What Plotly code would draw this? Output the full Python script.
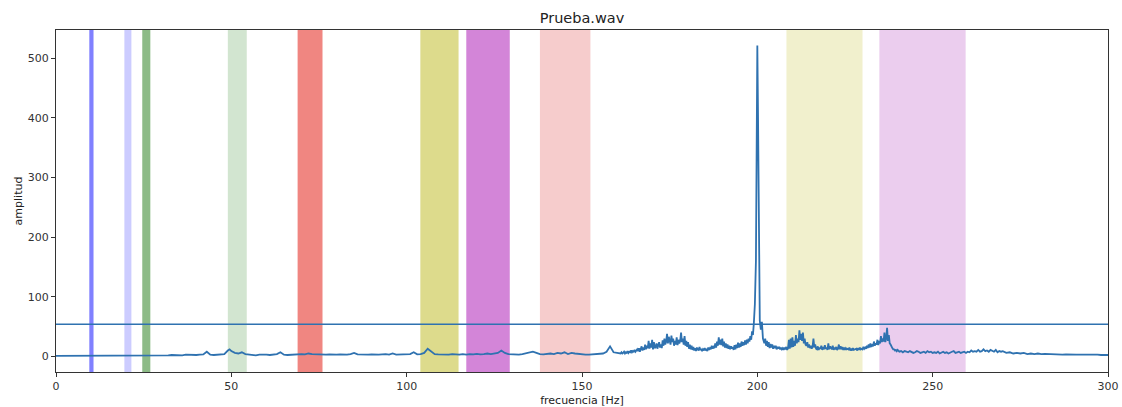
import plotly.graph_objects as go

# ---- data ----
title_text = "Prueba.wav"
x_label = "frecuencia [Hz]"
y_label = "amplitud"

band_start = [9.5, 19.5, 24.6, 49.0, 68.9, 103.9, 117.0, 138.0, 208.3, 234.8]
band_end = [10.7, 21.5, 26.9, 54.4, 76.0, 114.8, 129.4, 152.4, 230.0, 259.4]
band_colors = ["#8080ff", "#ccccff", "#8dbb87", "#d2e5d0", "#f08681",
               "#dddb8c", "#d385d8", "#f6cccc", "#f1f0cd", "#ebcdee"]

threshold = 54

freq = [0, 5, 10, 15, 20, 25, 30,
        31, 32, 33, 34, 35, 36, 37, 38, 39, 40, 41, 42, 43, 44, 45, 46, 47, 48, 49, 49.5, 50,
        51, 52, 53, 54, 55, 56, 57, 58, 59, 60, 61, 62, 63, 64, 65, 66, 67, 68, 69, 70,
        71, 72, 73, 74, 75, 76, 77, 78, 79, 80, 81, 82, 83, 84, 85, 86, 87, 88, 89, 90,
        91, 92, 93, 94, 95, 96, 97, 98, 99, 100, 101, 102, 103, 104, 105, 106, 107, 108, 109, 110,
        111, 112, 113, 114, 115, 116, 117, 118, 119, 120, 121, 122, 123, 124, 125, 126, 127, 128, 129, 130,
        131, 132, 133, 134, 135, 136, 137, 138, 139, 140, 141, 142, 143, 144, 145, 146, 147, 148, 149, 150,
        151, 152, 153, 154, 155, 156, 157, 158, 159, 160,
        161, 161.25, 161.5, 161.75, 162, 162.25, 162.5, 162.75, 163, 163.25, 163.5, 163.75,
        164, 164.25, 164.5, 164.75, 165, 165.25, 165.5, 165.75, 166, 166.25, 166.5, 166.75,
        167, 167.25, 167.5, 167.75, 168, 168.25, 168.5, 168.75, 169, 169.25, 169.5, 169.75,
        170, 170.25, 170.5, 170.75, 171, 171.25, 171.5, 171.75, 172, 172.25, 172.5, 172.75,
        173, 173.25, 173.5, 173.75, 174, 174.25, 174.5, 174.75, 175, 175.25, 175.5, 175.75,
        176, 176.25, 176.5, 176.75, 177, 177.25, 177.5, 177.75, 178, 178.25, 178.5, 178.75,
        179, 179.25, 179.5, 179.75, 180, 180.25, 180.5, 180.75, 181, 181.25, 181.5, 181.75,
        182, 182.25, 182.5, 182.75, 183, 183.25, 183.5, 183.75, 184, 184.25, 184.5, 184.75,
        185, 185.25, 185.5, 185.75, 186, 186.25, 186.5, 186.75, 187, 187.25, 187.5, 187.75,
        188, 188.25, 188.5, 188.75, 189, 189.25, 189.5, 189.75, 190, 190.25, 190.5, 190.75,
        191, 191.25, 191.5, 191.75, 192, 192.25, 192.5, 192.75, 193, 193.25, 193.5, 193.75,
        194, 194.25, 194.5, 194.75, 195, 195.25, 195.5, 195.75, 196, 196.25, 196.5, 196.75,
        197, 197.25, 197.5, 197.75, 198, 198.25, 198.5, 198.75,
        199, 199.3, 199.6, 199.8, 200, 200.2, 200.4, 200.7, 201, 201.3, 201.6,
        202, 202.25, 202.5, 202.75, 203, 203.25, 203.5, 203.75, 204, 204.25, 204.5, 204.75,
        205, 205.25, 205.5, 205.75, 206, 206.25, 206.5, 206.75, 207, 207.25, 207.5, 207.75,
        208, 208.25, 208.5, 208.75, 209, 209.25, 209.5, 209.75, 210, 210.25, 210.5, 210.75,
        211, 211.25, 211.5, 211.75, 212, 212.25, 212.5, 212.75, 213, 213.25, 213.5, 213.75,
        214, 214.25, 214.5, 214.75, 215, 215.25, 215.5, 215.75, 216, 216.25, 216.5, 216.75,
        217, 217.25, 217.5, 217.75, 218, 218.25, 218.5, 218.75, 219, 219.25, 219.5, 219.75,
        220, 220.25, 220.5, 220.75, 221, 221.25, 221.5, 221.75, 222, 222.25, 222.5, 222.75,
        223, 223.25, 223.5, 223.75, 224, 224.25, 224.5, 224.75, 225, 225.25, 225.5, 225.75,
        226, 226.25, 226.5, 226.75, 227, 227.25, 227.5, 227.75, 228, 228.25, 228.5, 228.75,
        229, 229.25, 229.5, 229.75, 230, 230.25, 230.5, 230.75, 231, 231.25, 231.5, 231.75,
        232, 232.25, 232.5, 232.75, 233, 233.25, 233.5, 233.75, 234, 234.25, 234.5, 234.75,
        235, 235.25, 235.5, 235.75, 236, 236.25, 236.5, 236.75, 237, 237.25, 237.5, 237.75,
        238, 238.25, 238.5, 238.75, 239, 239.25, 239.5, 239.75, 240,
        240.5, 241, 241.5, 242, 242.5, 243, 243.5, 244, 244.5, 245, 245.5, 246, 246.5, 247, 247.5,
        248, 248.5, 249, 249.5, 250, 250.5, 251, 251.5, 252, 252.5, 253, 253.5, 254, 254.5, 255,
        255.5, 256, 256.5, 257, 257.5, 258, 258.5, 259, 259.5, 260, 260.5, 261, 261.5, 262, 262.5,
        263, 263.5, 264, 264.5, 265, 265.5, 266, 266.5, 267, 267.5, 268, 268.5, 269, 269.5, 270,
        271, 272, 273, 274, 275, 276, 277, 278, 279, 280,
        281, 282, 283, 284, 285, 286, 287, 288, 289, 290, 291, 292, 293, 294, 295, 296, 297, 298, 299, 300]

amplitude = [1, 1, 1, 1, 1, 1, 1.5,
             2, 2, 2.5, 2, 2.5, 2, 3, 2.5, 3, 2.5, 3, 3.5, 8, 3, 2.5, 3, 3, 4, 10, 12, 9,
             6, 5, 7, 4, 3, 2.5, 2, 3, 3.5, 3, 2.5, 3, 4, 7, 3, 2.5, 3, 3, 3, 4,
             3.5, 5, 4, 3.5, 4, 3, 3, 3.5, 3, 3, 3.5, 3, 3, 4, 6, 3.5, 3, 2.5, 3, 3.5,
             3, 3, 3.5, 4, 3, 5, 3, 3, 3.5, 3, 4, 7, 3.5, 4, 6, 13, 8, 4, 3.5, 3,
             3.5, 3, 4, 3.5, 3, 4, 3, 4, 3.5, 4.5, 3.5, 4, 5, 4, 5, 6, 10, 6, 4, 3.5,
             4, 3, 4, 5, 7, 8, 6, 4, 3.5, 4, 5, 4, 6, 5, 7, 4, 6, 5, 4, 3.5,
             3, 3, 3.5, 4, 4, 5, 8, 17, 7, 6,
             5, 7, 5, 6, 8, 5, 7, 6, 9, 6, 8, 7,
             10, 7, 9, 8, 11, 8, 10, 12, 9, 14, 8, 12,
             17, 10, 15, 11, 20, 12, 18, 14, 26, 13, 22, 15,
             28, 12, 24, 14, 16, 22, 13, 19, 24, 15, 20, 14,
             27, 18, 30, 20, 25, 38, 22, 33, 28, 20, 35, 24,
             30, 18, 26, 20, 32, 19, 28, 22, 26, 40, 24, 30,
             20, 34, 18, 26, 16, 24, 13, 20, 12, 18, 11, 16,
             10, 14, 9, 15, 12, 10, 16, 11, 13, 9, 12, 10,
             14, 10, 13, 9, 15, 11, 14, 12, 18, 13, 16, 14,
             22, 15, 25, 18, 32, 20, 28, 19, 30, 17, 25, 15,
             22, 14, 20, 13, 18, 12, 17, 13, 16, 11, 19, 12,
             20, 14, 23, 15, 22, 16, 25, 18, 24, 19, 27, 20,
             28, 22, 30, 25, 34, 28, 42, 36,
             55, 88, 160, 380, 521, 400, 180, 60, 45, 58, 30,
             22, 30, 18, 26, 16, 24, 14, 21, 15, 20, 13, 18,
             14, 18, 12, 16, 13, 16, 12, 15, 12, 14, 11, 15,
             12, 16, 11, 14, 28, 13, 30, 15, 32, 16, 26, 18,
             36, 22, 30, 24, 44, 28, 38, 26, 40, 22, 30, 20,
             18, 24, 15, 20, 14, 18, 13, 16, 30, 15, 20, 13,
             12, 17, 11, 15, 13, 18, 11, 16, 12, 19, 13, 15,
             11, 22, 12, 17, 14, 12, 18, 11, 15, 12, 16, 11,
             13, 20, 12, 17, 12, 16, 11, 15, 11, 14, 12, 13,
             12, 15, 10, 13, 10, 14, 11, 12, 12, 13, 10, 14,
             11, 15, 12, 13, 12, 16, 13, 15, 13, 18, 14, 20,
             15, 22, 16, 19, 17, 25, 18, 22, 20, 28, 19, 26,
             22, 34, 24, 30, 25, 40, 24, 30, 48, 26, 36, 22,
             20, 16, 14, 12, 12, 10, 11, 9, 11,
             8, 9, 7, 9, 8, 7, 9, 8, 6, 7, 9, 8, 6, 7, 8,
             6, 9, 7, 8, 6, 7, 6, 8, 5, 7, 8, 6, 7, 5, 7,
             8, 9, 6, 7, 8, 6, 7, 8, 6, 8, 7, 10, 8, 9, 8,
             11, 8, 9, 12, 9, 10, 8, 11, 9, 8, 11, 7, 9, 8, 9,
             6, 7, 5, 6, 5, 6, 4, 5, 4, 5,
             4, 4.5, 4, 3.5, 4, 3.5, 3, 3.5, 3, 3.5, 3, 3, 3.5, 3, 3, 3.5, 3, 2.5, 3, 2.5]

x_range = [0, 300]
y_range = [-26, 547]
x_ticks = [0, 50, 100, 150, 200, 250, 300]
y_ticks = [0, 100, 200, 300, 400, 500]

# ---- figure ----
line_color = "#2f72b0"
fig = go.Figure()

for s, e, c in zip(band_start, band_end, band_colors):
    fig.add_vrect(x0=s, x1=e, fillcolor=c, opacity=1, line_width=0, layer="below")

fig.add_trace(go.Scatter(x=freq, y=amplitude, mode="lines",
                         line=dict(color=line_color, width=1.8), showlegend=False))
fig.add_trace(go.Scatter(x=x_range, y=[threshold, threshold], mode="lines",
                         line=dict(color=line_color, width=1.6), showlegend=False))

axis_common = dict(showline=True, linecolor="#333333", linewidth=1, mirror=True,
                   ticks="outside", ticklen=4, tickcolor="#333333", showgrid=False,
                   zeroline=False, automargin=False,
                   tickfont=dict(family="DejaVu Sans", size=11, color="#333333"))

fig.update_xaxes(range=x_range, tickvals=x_ticks, title=dict(text=x_label, standoff=4,
                 font=dict(family="DejaVu Sans", size=11, color="#222222")), **axis_common)
fig.update_yaxes(range=y_range, tickvals=y_ticks, title=dict(text=y_label, standoff=2,
                 font=dict(family="DejaVu Sans", size=11, color="#222222")), **axis_common)

fig.update_layout(
    width=1122, height=407,
    margin=dict(l=56, r=14, t=30, b=35),
    paper_bgcolor="white", plot_bgcolor="white",
    title=dict(text=title_text, x=0.5, xref="paper", xanchor="center", y=0.955, yanchor="middle",
               font=dict(family="DejaVu Sans", size=14.5, color="#222222")),
)

fig.write_html("out.html", config={"displayModeBar": False},
               post_script="document.body.style.margin='0';document.body.style.overflow='hidden';")
